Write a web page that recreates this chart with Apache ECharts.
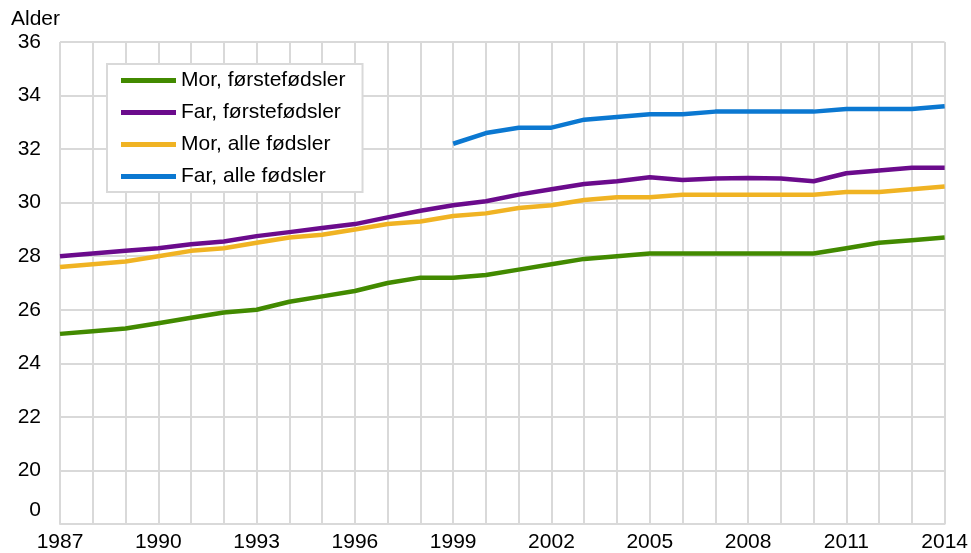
<!DOCTYPE html>
<html>
<head>
<meta charset="utf-8">
<script src="https://cdn.jsdelivr.net/npm/echarts@6/dist/echarts.min.js"></script>
<style>
  html, body { margin: 0; padding: 0; background: #fff; }
  #chart { width: 971px; height: 553px; }
</style>
</head>
<body>
<div id="chart"></div>
<script>
const years = [];
for (let y = 1987; y <= 2014; y++) years.push(String(y));

const morForste = [25.1, 25.2, 25.3, 25.5, 25.7, 25.9, 26.0, 26.3, 26.5, 26.7, 27.0, 27.2, 27.2, 27.3,
  27.5, 27.7, 27.9, 28.0, 28.1, 28.1, 28.1, 28.1, 28.1, 28.1, 28.3, 28.5, 28.6, 28.7];
const farForste = [28.0, 28.1, 28.2, 28.3, 28.45, 28.55, 28.75, 28.9, 29.05, 29.2, 29.45, 29.7, 29.9, 30.05,
  30.3, 30.5, 30.7, 30.8, 30.95, 30.85, 30.9, 30.92, 30.9, 30.8, 31.1, 31.2, 31.3, 31.3];
const morAlle = [27.6, 27.7, 27.8, 28.0, 28.2, 28.3, 28.5, 28.7, 28.8, 29.0, 29.2, 29.3, 29.5, 29.6,
  29.8, 29.9, 30.1, 30.2, 30.2, 30.3, 30.3, 30.3, 30.3, 30.3, 30.4, 30.4, 30.5, 30.6];
const farAlle = [null, null, null, null, null, null, null, null, null, null, null, null, 32.2, 32.6,
  32.8, 32.8, 33.1, 33.2, 33.3, 33.3, 33.4, 33.4, 33.4, 33.4, 33.5, 33.5, 33.5, 33.6];

const font = 'Liberation Sans, Arial, sans-serif';
const fs = 21;
const chart = echarts.init(document.getElementById('chart'));

function line(name, data, color) {
  return {
    name: name,
    type: 'line',
    data: data,
    symbol: 'none',
    lineStyle: { width: 4.5, color: color },
    itemStyle: { color: color },
    connectNulls: false
  };
}

chart.setOption({
  animation: false,
  grid: { left: 60, right: 26, top: 42, bottom: 25 },
  legend: {
    orient: 'vertical',
    left: 107,
    top: 64,
    padding: [6, 17, 5, 14],
    itemGap: 11,
    itemWidth: 55,
    itemHeight: 5,
    icon: 'rect',
    borderColor: '#d9d9d9',
    borderWidth: 2,
    backgroundColor: '#fff',
    textStyle: { fontSize: fs, color: '#000', fontFamily: font, padding: [0, 0, 0, 0] },
    data: ['Mor, førstefødsler', 'Far, førstefødsler', 'Mor, alle fødsler', 'Far, alle fødsler']
  },
  xAxis: {
    type: 'category',
    data: years,
    boundaryGap: false,
    axisLine: { lineStyle: { color: '#d9d9d9', width: 2 } },
    axisTick: { show: false },
    axisLabel: { interval: 2, fontSize: fs, color: '#000', fontFamily: font, margin: 8 },
    splitLine: { show: true, interval: 0, lineStyle: { color: '#d9d9d9', width: 2 } }
  },
  yAxis: {
    type: 'value',
    min: 18,
    max: 36,
    interval: 2,
    name: 'Alder',
    nameGap: 12,
    nameTextStyle: { fontSize: fs, color: '#000', fontFamily: font, align: 'right' },
    axisLine: { show: false },
    axisTick: { show: false },
    axisLabel: {
      fontSize: fs,
      color: '#000',
      fontFamily: font,
      margin: 19,
      formatter: function (v) { return v === 18 ? '{z|0}' : String(v); },
      rich: { z: { fontSize: fs, color: '#000', fontFamily: font, padding: [0, 0, 28, 0] } }
    },
    splitLine: { lineStyle: { color: '#d9d9d9', width: 2 } }
  },
  series: [
    line('Mor, førstefødsler', morForste, '#428a00'),
    line('Far, førstefødsler', farForste, '#6b0b8c'),
    line('Mor, alle fødsler', morAlle, '#f0b323'),
    line('Far, alle fødsler', farAlle, '#0b78d1')
  ]
});
</script>
</body>
</html>
